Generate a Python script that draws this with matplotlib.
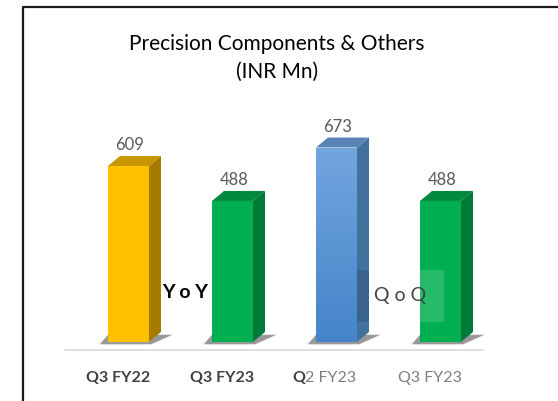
import matplotlib
matplotlib.use("Agg")
import matplotlib.pyplot as plt
import matplotlib.patches as ptch
import numpy as np

# Данные
categories = ["Q3 FY22", "Q3 FY23", "Q2 FY23", "Q3 FY23"]
values = [609, 488, 673, 488]
front_colors = ["#FFC000", "#00B050", "#5B9BD5", "#00B050"]
side_colors = ["#A67C00", "#007A37", "#41719C", "#007A37"]
top_colors = ["#C79600", "#008A3E", "#5A83B5", "#008A3E"]

W, H = 558, 401
fig = plt.figure(figsize=(W / 100, H / 100), dpi=100)
ax = fig.add_axes([0, 0, 1, 1])

# масштаб: пиксели -> данные
x0_px, step_px = 128.5, 104.0
base_px, k = 342.0, 0.289
ax.set_xlim(-x0_px / step_px, (W - x0_px) / step_px)
ax.set_ylim(-(H - base_px) / k, base_px / k)
ax.axis("off")

def px_x(p):
    return (p - x0_px) / step_px

def px_y(p):
    return (base_px - p) / k

bw = 41 / step_px      # ширина бара
dx = 12 / step_px      # глубина по x
dy = 10 / k            # глубина по y

for i, (v, fc, sc, tc) in enumerate(zip(values, front_colors, side_colors, top_colors)):
    l, r = i - bw / 2, i + bw / 2
    # тень
    ax.add_patch(ptch.Polygon([(l - 0.08, -8), (r + 0.02, -8), (r + dx + 0.11, 25),
                               (l + 0.0, 25)], closed=True, color="#555555",
                              alpha=0.6, lw=0, zorder=1))
    # боковая грань
    ax.add_patch(ptch.Polygon([(r, 0), (r + dx, dy), (r + dx, v + dy), (r, v)],
                              closed=True, color=sc, lw=0, zorder=2))
    # верхняя грань
    ax.add_patch(ptch.Polygon([(l, v), (r, v), (r + dx, v + dy), (l + dx, v + dy)],
                              closed=True, color=tc, lw=0, zorder=2))
    # передняя грань
    front = ptch.Rectangle((l, 0), bw, v, color=fc, lw=0, zorder=3)
    ax.add_patch(front)
    if i == 2:
        grad = np.linspace(0, 1, 100).reshape(-1, 1)
        cmap = matplotlib.colors.LinearSegmentedColormap.from_list(
            "b", ["#4584C9", "#72A6DE"])
        im = ax.imshow(grad, extent=[l, r, 0, v], aspect="auto", cmap=cmap,
                       origin="lower", zorder=4)
        im.set_clip_path(front)
    ax.text(i + 0.015, v + 72, str(v), ha="center", va="center",
            fontsize=12, color="#595959", family="Lato", zorder=5)

# базовая линия
ax.plot([px_x(65), px_x(483)], [px_y(350), px_y(350)], color="#D9D9D9",
        lw=1.2, zorder=1)

# подписи оси x
lab_y = px_y(378)
lab_dx = -0.1
ax.text(0 + lab_dx, lab_y, categories[0], ha="center", va="center", fontsize=11.5,
        fontweight="bold", color="#404040", family="Lato")
ax.text(1 + lab_dx, lab_y, categories[1], ha="center", va="center", fontsize=11.5,
        fontweight="bold", color="#404040", family="Lato")
ax.text(2 + lab_dx - 0.2, lab_y, categories[2][0], ha="right", va="center",
        fontsize=11.5, fontweight="bold", color="#404040", family="Lato")
ax.text(2 + lab_dx - 0.2, lab_y, categories[2][1:], ha="left", va="center",
        fontsize=11.5, color="#7F7F7F", family="Lato")
ax.text(3 + lab_dx, lab_y, categories[3], ha="center", va="center", fontsize=11.5,
        color="#7F7F7F", family="Lato")

# YoY / QoQ
ax.text(px_x(185), px_y(292), "Y o Y", ha="center", va="center", fontsize=14,
        fontweight="bold", color="black", family="Lato", zorder=6)
# полупрозрачная подложка QoQ (видна только на барах)
ax.add_patch(ptch.Rectangle((2 + bw / 2, px_y(322)), dx, 52 / k,
                            color="#1F3F66", alpha=0.25, lw=0, zorder=6))
ax.add_patch(ptch.Rectangle((3 - bw / 2, px_y(322)), 24 / step_px, 52 / k,
                            color="white", alpha=0.15, lw=0, zorder=6))
ax.text(px_x(400), px_y(295), "Q o Q", ha="center", va="center", fontsize=14,
        color="#404040", family="Lato", zorder=7)

# заголовок
fig.text(277 / W, 1 - 44 / H, "Precision Components & Others", ha="center",
         va="center", fontsize=15, color="black", family="Lato")
fig.text(277 / W, 1 - 72 / H, "(INR Mn)", ha="center", va="center",
         fontsize=15, color="black", family="Lato")

# рамка
fig.add_artist(plt.Line2D([22.5 / W, 22.5 / W, 1], [0, 1 - 6.5 / H, 1 - 6.5 / H],
                          transform=fig.transFigure, color="#1a1a1a", lw=1.6))

fig.savefig("out.png", dpi=100)
